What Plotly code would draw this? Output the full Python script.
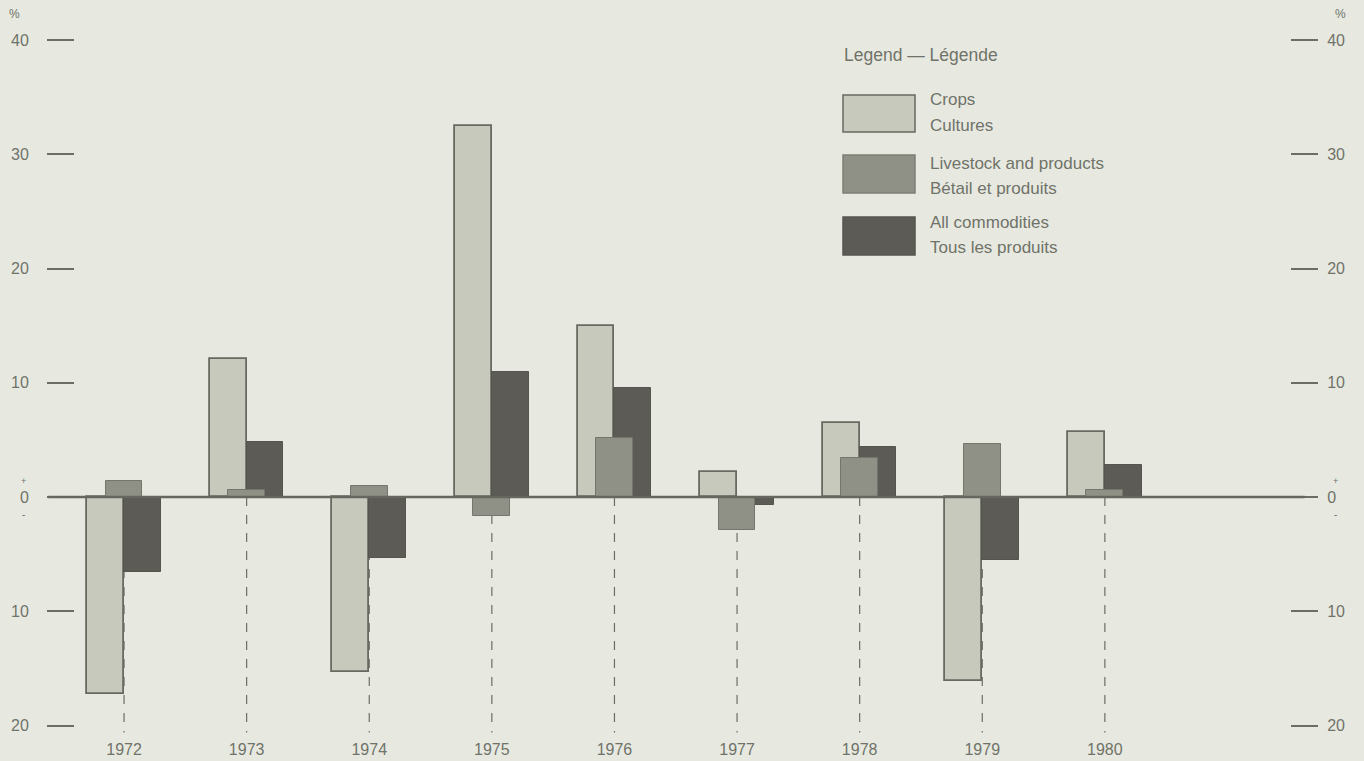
import plotly.graph_objects as go

years = [1972, 1973, 1974, 1975, 1976, 1977, 1978, 1979, 1980]
crops = [-17.2, 12.1, -15.3, 32.5, 15.0, 2.2, 6.5, -16.1, 5.7]
livestock = [1.4, 0.6, 1.0, -1.7, 5.2, -2.9, 3.4, 4.6, 0.6]
all_commodities = [-6.6, 4.8, -5.3, 10.9, 9.5, -0.7, 4.4, -5.5, 2.8]

y_ticks = [-20, -10, 0, 10, 20, 30, 40]
y_ticktext = ["20", "10", "0", "10", "20", "30", "40"]

BG = "#e7e9e1"
TXT = "#707369"
FONT = "Liberation Sans"

C_CROPS = "#c7c9bd"
C_LIVE = "#8f9086"
C_ALL = "#5c5b56"
EDGE = "#686a62"

W = 0.30

fig = go.Figure()
# draw order: crops, all commodities, livestock (livestock overlaps on top)
fig.add_trace(go.Bar(x=years, y=crops, offset=-W, width=W, name="Crops",
                     marker=dict(color=C_CROPS, line=dict(color=EDGE, width=1.8))))
fig.add_trace(go.Bar(x=years, y=all_commodities, offset=0, width=W, name="All commodities",
                     marker=dict(color=C_ALL, line=dict(color="#55544f", width=1))))
fig.add_trace(go.Bar(x=years, y=livestock, offset=-0.15, width=W, name="Livestock",
                     marker=dict(color=C_LIVE, line=dict(color="#74756c", width=1))))
# invisible trace to activate the right-hand axis
fig.add_trace(go.Scatter(x=[years[0]], y=[0], yaxis="y2", mode="markers",
                         marker=dict(opacity=0), showlegend=False, hoverinfo="skip"))

YMIN, YMAX = -21.09, 41.75
XMIN, XMAX = 1971.6, 1981.51

fig.update_layout(
    width=1364, height=761,
    paper_bgcolor=BG, plot_bgcolor=BG,
    margin=dict(l=75, r=74, t=20, b=23, autoexpand=False),
    barmode="overlay", bargap=0,
    showlegend=False,
    font=dict(family=FONT, color=TXT, size=16),
    xaxis=dict(range=[XMIN, XMAX], tickmode="array", tickvals=years, automargin=False,
               ticktext=[str(y) for y in years], showgrid=False, zeroline=False,
               showline=False, ticks="", tickfont=dict(size=16, color=TXT)),
    yaxis=dict(range=[YMIN, YMAX], tickmode="array", tickvals=y_ticks, ticktext=y_ticktext,
               showgrid=False, zeroline=False, showline=False, automargin=False,
               ticks="outside", ticklen=27, tickwidth=2, tickcolor="#6c6e66",
               ticklabelstandoff=15, tickfont=dict(size=16, color=TXT)),
    yaxis2=dict(range=[YMIN, YMAX], overlaying="y", side="right", tickmode="array",
                tickvals=y_ticks, ticktext=y_ticktext, showgrid=False, zeroline=False,
                showline=False, ticks="outside", ticklen=27, tickwidth=2, automargin=False,
                tickcolor="#6c6e66", ticklabelstandoff=6,
                tickfont=dict(size=16, color=TXT)),
)

shapes = []
# dashed year lines
for yr in years:
    shapes.append(dict(type="line", xref="x", yref="y", x0=yr, x1=yr, y0=0, y1=-20.6,
                       line=dict(color="#6c6e66", width=1.2, dash="dash"), layer="below"))
# zero line
shapes.append(dict(type="line", xref="paper", yref="y", x0=-0.022, x1=1.012, y0=0, y1=0,
                   line=dict(color="#666860", width=2.4), layer="above"))

# legend boxes
leg = [(C_CROPS, EDGE, 95, 132), (C_LIVE, "#7d7e75", 155, 193), (C_ALL, "#55544f", 217, 255)]
for fill, edge, y0, y1 in leg:
    shapes.append(dict(type="rect", xref="paper", yref="paper",
                       x0=(843 - 75) / 1215, x1=(915 - 75) / 1215,
                       y0=1 - (y1 - 20) / 718, y1=1 - (y0 - 20) / 718,
                       fillcolor=fill, line=dict(color=edge, width=1.5)))
fig.update_layout(shapes=shapes)

ann = []
def px_ann(text, x, y, size=17, xanchor="left"):
    ann.append(dict(text=text, xref="paper", yref="paper",
                    x=(x - 75) / 1215, y=1 - (y - 20) / 718,
                    showarrow=False, xanchor=xanchor, yanchor="middle",
                    font=dict(size=size, color=TXT, family=FONT)))

px_ann("Legend — Légende", 842, 55, size=17.5)
px_ann("Crops", 928, 100)
px_ann("Cultures", 928, 125)
px_ann("Livestock and products", 928, 163)
px_ann("Bétail et produits", 928, 188)
px_ann("All commodities", 928, 223)
px_ann("Tous les produits", 928, 248)
# % signs
px_ann("%", 14, 14, size=12, xanchor="center")
px_ann("%", 1340, 14, size=12, xanchor="center")
# + / - around zero labels
px_ann("+", 23, 481, size=9, xanchor="center")
px_ann("-", 23, 514, size=10, xanchor="center")
px_ann("+", 1335, 481, size=9, xanchor="center")
px_ann("-", 1335, 514, size=10, xanchor="center")
fig.update_layout(annotations=ann)

fig.write_html("out.html", config={"displayModeBar": False},
               post_script="document.body.style.margin='0';document.body.style.background='" + BG + "';")
